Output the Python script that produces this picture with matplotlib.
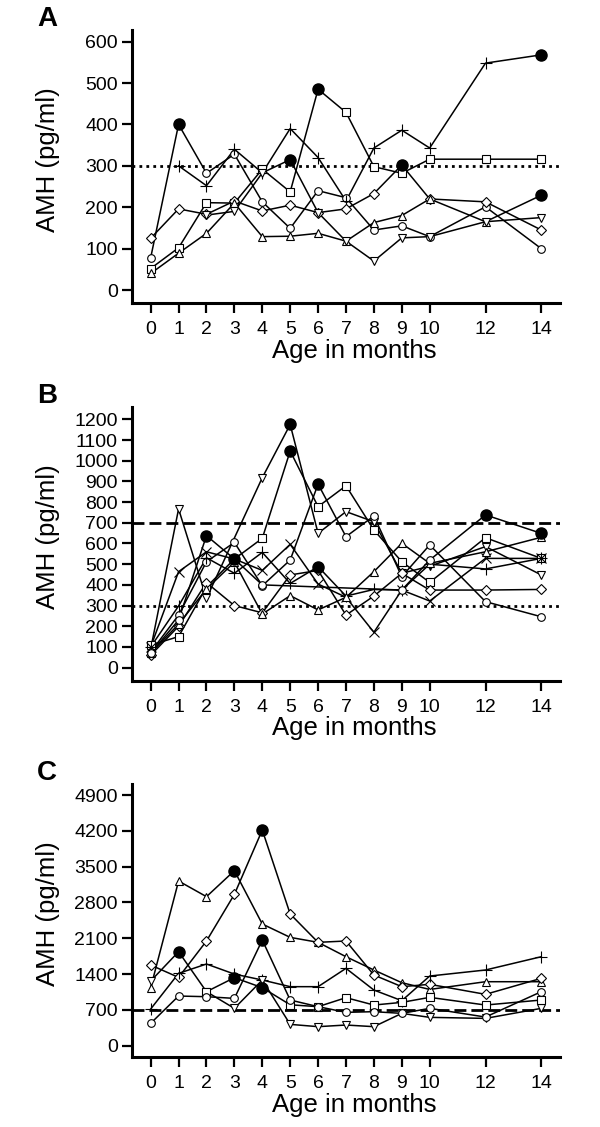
import numpy as np
import matplotlib
matplotlib.use("Agg")
import matplotlib.pyplot as plt

plt.rcParams['font.family'] = ['Liberation Sans', 'DejaVu Sans']

months = [0, 1, 2, 3, 4, 5, 6, 7, 8, 9, 10, 12, 14]
nan = np.nan

# panel A (pg/ml); filled = indices drawn as filled circles
a_circle = [78, 400, 282, 328, 213, 149, 240, 223, 145, 155, 129, 201, 100]
a_plus = [nan, 300, 252, 340, 283, 390, 320, 215, 343, 386, 343, 548, 568]
a_square = [52, 102, 211, 210, 292, 237, 485, 429, 298, 282, 316, 316, 316]
a_diamond = [125, 196, 183, 215, 191, 205, 187, 196, 233, 302, 220, 213, 145]
a_triup = [40, 89, 137, 210, 129, 130, 137, 118, 163, 180, 220, 165, 229]
a_tridown = [nan, nan, 181, 190, 283, 315, 187, 118, 70, 126, 129, 165, 175]

# panel B
b_tridown = [90, 767, 335, nan, 918, 1175, 649, 754, 705, 456, 490, 585, 448]
b_square = [109, 150, 390, 525, 625, 1047, 778, 879, 665, 512, 412, 628, 528]
b_circle = [75, 254, 512, 605, 396, 520, 887, 633, 733, 440, 593, 319, 246]
b_plus = [100, 298, 531, 456, 557, 407, 488, 346, 378, 375, 500, 477, 528]
b_x = [100, 464, 560, 525, 470, 596, 404, 340, 171, 375, 322, 528, 528]
b_diamond = [60, 200, 411, 300, 265, 448, 470, 254, 346, 456, 375, 375, 378]
b_triup = [70, 210, 380, 510, 259, 348, 279, 340, 464, 601, 504, 560, 630]
b_circle2 = [70, 230, 638, 525, 400, nan, nan, nan, nan, 375, 520, 738, 649]

# panel C
c_triup = [1134, 3220, 2914, 3422, 2379, 2118, 2021, 1740, 1480, 1232, 1100, 1251, 1251]
c_diamond = [1577, 1336, 2047, 2959, 4217, 2575, 2021, 2047, 1382, 1154, 1200, 1004, 1317]
c_plus = [717, 1414, 1597, 1400, 1284, 1154, 1154, 1512, 1088, 880, 1362, 1480, 1740]
c_tridown = [1264, 1838, 1056, 730, 1284, 417, 372, 404, 372, 632, 554, 534, 730]
c_square = [nan, nan, 1056, 1330, 1134, 800, 763, 939, 795, 847, 945, 795, 893]
c_circle = [437, 971, 958, 925, 2066, 893, 763, 652, 665, 632, 730, 560, 1056]

panels = [
    ("A", [(a_circle, 'o', [1]), (a_plus, '+', [12]), (a_square, 's', [6]),
           (a_diamond, 'D', [9]), (a_triup, '^', [12]), (a_tridown, 'v', [5])],
     [0, 100, 200, 300, 400, 500, 600], (-32, 628), [(300, 'dot')]),
    ("B", [(b_tridown, 'v', [5]), (b_square, 's', [5]), (b_circle, 'o', [6]),
           (b_plus, '+', [6]), (b_x, 'x', []), (b_diamond, 'D', []),
           (b_triup, '^', []), (b_circle2, 'o', [2, 3, 11, 12])],
     list(range(0, 1300, 100)), (-63, 1261), [(700, 'dash'), (300, 'dot')]),
    ("C", [(c_triup, '^', [3]), (c_diamond, 'D', [4]), (c_plus, '+', []),
           (c_tridown, 'v', [1]), (c_square, 's', [3, 4]), (c_circle, 'o', [4])],
     list(range(0, 5000, 700)), (-227, 5117), [(700, 'dash')]),
]

W, H = 600, 1127
fig = plt.figure(figsize=(W / 100, H / 100), dpi=100)
boxes = [(30, 303.3), (406.7, 680.7), (784, 1057.3)]
left, right = 131.7, 560

msize = {'o': 5.5, 's': 5.5, 'D': 5, '^': 6, 'v': 6, '+': 9, 'x': 7}

for (letter, series, yt, ylim, refs), (top, bot) in zip(panels, boxes):
    ax = fig.add_axes([left / W, 1 - bot / H, (right - left) / W, (bot - top) / H])
    for r, kind in refs:
        if kind == 'dot':
            ax.axhline(r, color='black', lw=2, ls=(0, (1, 1.5)), zorder=1)
        else:
            ax.axhline(r, color='black', lw=2, ls=(0, (4.3, 1.8)), zorder=1)
    for vals, mk, filled in series:
        x = np.array(months, dtype=float)
        y = np.array(vals, dtype=float)
        ok = ~np.isnan(y)
        ax.plot(x[ok], y[ok], color='black', lw=1.1, zorder=2)
        open_idx = [i for i in range(len(y)) if ok[i] and i not in filled]
        ax.plot(x[open_idx], y[open_idx], ls='none', marker=mk, ms=msize[mk],
                mfc='white', mec='black', mew=0.8, zorder=3)
        if filled:
            ax.plot(x[filled], y[filled], ls='none', marker='o', ms=8,
                    mfc='black', mec='black', zorder=4)
    ax.set_xlim(-0.68, 14.67)
    ax.set_ylim(*ylim)
    ax.set_xticks(months)
    ax.set_yticks(yt)
    ax.tick_params(direction='out', length=7, width=1.6, labelsize=14, pad=3)
    ax.tick_params(axis='x', pad=6)
    for s in ['top', 'right']:
        ax.spines[s].set_visible(False)
    for s in ['left', 'bottom']:
        ax.spines[s].set_linewidth(2.2)
    ax.set_xlabel("Age in months", fontsize=18.5, labelpad=0)
    ax.xaxis.set_label_coords(0.52, -0.13)
    fig.text(48 / W, 1 - ((top + bot) / 2 - 7) / H, "AMH (pg/ml)", rotation=90,
             fontsize=18.5, ha='center', va='center')
    fig.text(37 / W, 1 - (top - 24) / H, letter, fontsize=20, fontweight='bold',
             ha='left', va='top')

fig.savefig("out.png", dpi=100)
